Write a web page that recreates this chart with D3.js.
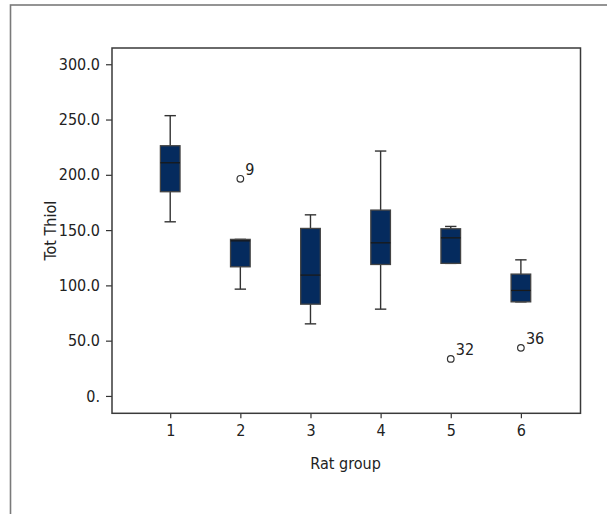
<!DOCTYPE html>
<html>
<head>
<meta charset="utf-8">
<script src="https://cdn.jsdelivr.net/npm/d3@7"></script>
<style>
  body { margin: 0; background: #fff; }
  svg text { font-family: "Liberation Sans Narrow", "DejaVu Sans Condensed", "Roboto Condensed", sans-serif; fill: #222; }
</style>
</head>
<body>
<svg></svg>
<script>
const width = 607;
const height = 514;

// Box plot data
const groups = [1, 2, 3, 4, 5, 6];
const whiskerLow = [157.5, 96.6, 65.2, 78.5, 119.9, 85.1];
const q1 = [184.7, 116.8, 83.0, 118.9, 119.9, 85.1];
const median = [210.9, 140.3, 109.3, 138.5, 143.0, 95.4];
const q3 = [226.3, 141.6, 151.5, 168.1, 151.2, 110.2];
const whiskerHigh = [253.5, 141.6, 163.8, 221.5, 153.3, 123.1];

const outlierGroups = [2, 5, 6];
const outlierValues = [196.4, 33.5, 43.5];
const outlierLabels = ["9", "32", "36"];

const yTicks = [0, 50, 100, 150, 200, 250, 300];
const yTickLabels = ["0.", "50.0", "100.0", "150.0", "200.0", "250.0", "300.0"];

const svg = d3.select("svg")
    .attr("width", width)
    .attr("height", height);

// Outer frame of the figure
svg.append("rect")
    .attr("x", 10.5)
    .attr("y", 5)
    .attr("width", 620)
    .attr("height", 540)
    .attr("fill", "none")
    .attr("stroke", "#7a7a7a")
    .attr("stroke-width", 1.6);

const plot = { left: 112, top: 48, right: 580.5, bottom: 413.3 };

const x = d3.scaleLinear()
    .domain([0.17, 6.85])
    .range([plot.left, plot.right]);

const y = d3.scaleLinear()
    .domain([-15.7, 314.7])
    .range([plot.bottom, plot.top]);

// Axes
const yAxis = svg.append("g")
    .attr("transform", `translate(${plot.left},0)`)
    .call(d3.axisLeft(y)
        .tickValues(yTicks)
        .tickFormat((d, i) => yTickLabels[i])
        .tickSize(6)
        .tickPadding(6));

const xAxis = svg.append("g")
    .attr("transform", `translate(0,${plot.bottom})`)
    .call(d3.axisBottom(x)
        .tickValues(groups)
        .tickFormat(d3.format("d"))
        .tickSize(5)
        .tickPadding(6));

[yAxis, xAxis].forEach(g => {
    g.select(".domain").remove();
    g.selectAll(".tick line").attr("stroke", "#333").attr("stroke-width", 1.2);
    g.selectAll(".tick text").attr("font-size", 16).attr("fill", "#222");
});

// Plot frame
svg.append("rect")
    .attr("x", plot.left)
    .attr("y", plot.top)
    .attr("width", plot.right - plot.left)
    .attr("height", plot.bottom - plot.top)
    .attr("fill", "none")
    .attr("stroke", "#3a3a3a")
    .attr("stroke-width", 1.5);

// Axis titles
svg.append("text")
    .attr("x", (x(1) + x(6)) / 2)
    .attr("y", 469)
    .attr("text-anchor", "middle")
    .attr("font-size", 16)
    .text("Rat group");

svg.append("text")
    .attr("transform", `translate(56,${(plot.top + plot.bottom) / 2}) rotate(-90)`)
    .attr("text-anchor", "middle")
    .attr("font-size", 16)
    .text("Tot Thiol");

// Boxes
const boxHalf = (x(1.14) - x(0.86)) / 2;
const capHalf = boxHalf * 0.58;

const box = svg.selectAll(".box")
    .data(groups)
    .enter().append("g")
    .attr("class", "box");

// whiskers
box.append("line")
    .attr("x1", d => x(d)).attr("x2", d => x(d))
    .attr("y1", (d, i) => y(whiskerHigh[i]))
    .attr("y2", (d, i) => y(whiskerLow[i]))
    .attr("stroke", "#333")
    .attr("stroke-width", 1.4);

box.selectAll(".cap")
    .data((d, i) => [{ g: d, v: whiskerHigh[i] }, { g: d, v: whiskerLow[i] }])
    .enter().append("line")
    .attr("class", "cap")
    .attr("x1", d => x(d.g) - capHalf)
    .attr("x2", d => x(d.g) + capHalf)
    .attr("y1", d => y(d.v))
    .attr("y2", d => y(d.v))
    .attr("stroke", "#333")
    .attr("stroke-width", 1.4);

box.append("rect")
    .attr("x", d => x(d) - boxHalf)
    .attr("width", boxHalf * 2)
    .attr("y", (d, i) => y(q3[i]))
    .attr("height", (d, i) => y(q1[i]) - y(q3[i]))
    .attr("fill", "#052b5e")
    .attr("stroke", "#444")
    .attr("stroke-width", 1.3);

box.append("line")
    .attr("x1", d => x(d) - boxHalf)
    .attr("x2", d => x(d) + boxHalf)
    .attr("y1", (d, i) => y(median[i]))
    .attr("y2", (d, i) => y(median[i]))
    .attr("stroke", "#1a1a1a")
    .attr("stroke-width", 1.3);

// Outliers
const out = svg.selectAll(".outlier")
    .data(outlierGroups)
    .enter().append("g")
    .attr("class", "outlier");

out.append("circle")
    .attr("cx", d => x(d))
    .attr("cy", (d, i) => y(outlierValues[i]))
    .attr("r", 3.3)
    .attr("fill", "#fff")
    .attr("stroke", "#333")
    .attr("stroke-width", 1.2);

out.append("text")
    .attr("x", d => x(d) + 5)
    .attr("y", (d, i) => y(outlierValues[i]) - 4)
    .attr("font-size", 16)
    .text((d, i) => outlierLabels[i]);
</script>
</body>
</html>
